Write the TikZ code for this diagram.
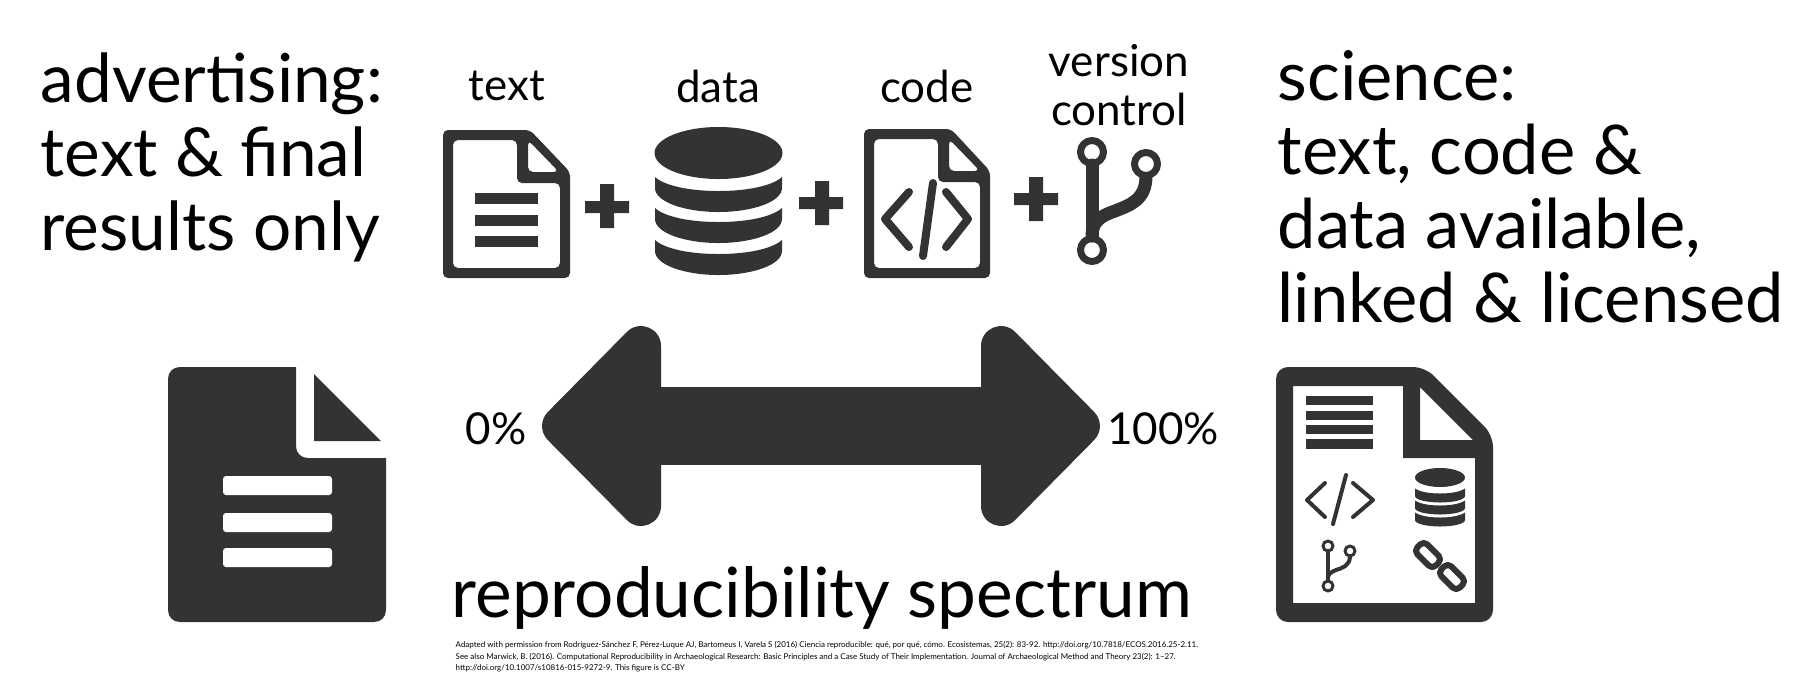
\documentclass[tikz,border=0pt]{standalone}
\usepackage{fontspec}
\setmainfont{Lato}
\definecolor{icongray}{HTML}{333333}
\tikzset{
  icon/.style={fill=icongray,draw=none},
  iconline/.style={draw=icongray,line width=#1*0.01cm,line cap=round,line join=round},
  heading/.style={font=\fontsize{#1}{21}\selectfont,anchor=north west,align=left,inner sep=0pt},
  label/.style={font=\fontsize{12.5}{12}\selectfont,anchor=base,inner sep=0pt}
}
\begin{document}
\begin{tikzpicture}[x=0.01cm,y=-0.01cm]
\useasboundingbox (0,0) rectangle (1814,687);
% headings
\node[heading=19.2] (adtext) at (40,52) {advertising:\\text \& final\\results only};
\node[heading=19.5] (scitext) at (1277,50) {science:\\text, code \&\\data available,\\linked \& licensed};
\node[label] (text) at (507,100) {text};
\node[label] (data) at (718,102) {data};
\node[label] (code) at (927,102) {code};
\node[label] (version) at (1119,76) {version};
\node[label] (control) at (1119,125) {control};
% text page
\fill[icon,even odd rule,rounded corners=0.05cm] (443,130) -- (530,130) -- (570,172) -- (570,278) -- (443,278) -- cycle
  (453,140) -- (453,268) -- (560,268) -- (560,183) -- (517,183) -- (517,140) -- cycle
  (528,140) -- (559,172) -- (528,172) -- cycle;
\fill[icon] (475,193) rectangle (538,204);
\fill[icon] (475,215) rectangle (538,226);
\fill[icon] (475,236) rectangle (538,247);
% plus signs
\fill[icon] (585,201) rectangle (629,213) (600,184) rectangle (614,228);
\fill[icon] (799,197) rectangle (843,209) (815,181) rectangle (829,225);
\fill[icon] (1014,193) rectangle (1058,205) (1029,177) rectangle (1043,221);
% database
\fill[icon] (718.5,153) circle [x radius=64,y radius=26];
\fill[icon] (655,177) .. controls (665,186) and (690,191) .. (718.5,191) .. controls (747,191) and (772,186) .. (782,177) -- (782,188) .. controls (782,202) and (752,212) .. (718.5,212) .. controls (685,212) and (655,202) .. (655,188) -- cycle;
\fill[icon,shift={(0,31)}] (655,177) .. controls (665,186) and (690,191) .. (718.5,191) .. controls (747,191) and (772,186) .. (782,177) -- (782,188) .. controls (782,202) and (752,212) .. (718.5,212) .. controls (685,212) and (655,202) .. (655,188) -- cycle;
\fill[icon,shift={(0,63)}] (655,177) .. controls (665,186) and (690,191) .. (718.5,191) .. controls (747,191) and (772,186) .. (782,177) -- (782,188) .. controls (782,202) and (752,212) .. (718.5,212) .. controls (685,212) and (655,202) .. (655,188) -- cycle;
% code page
\fill[icon,even odd rule,rounded corners=0.05cm] (864,129) -- (951,129) -- (990,171) -- (990,278) -- (864,278) -- cycle
  (874,139) -- (874,268) -- (980,268) -- (980,182) -- (938,182) -- (938,139) -- cycle
  (949,139) -- (980,171) -- (949,171) -- cycle;
\draw[iconline=8] (909,192) -- (885,219) -- (909,247);
\draw[iconline=8] (946,192) -- (968,219) -- (946,247);
\draw[iconline=8] (933,183) -- (923,256);
% version control
\draw[iconline=7] (1092,152) circle (11.5);
\draw[iconline=7] (1146,164) circle (11.5);
\draw[iconline=7] (1092,250) circle (11.5);
\draw[iconline=13] (1092,165) -- (1092,236);
\draw[iconline=13,line cap=butt] (1146,176) .. controls (1146,200) and (1130,205) .. (1115,211) .. controls (1100,216) and (1092,222) .. (1092,236);
% double arrow
\node[label,anchor=base] (zero) at (496,444) {0\%};
\node[label,anchor=base] (hundred) at (1163,444) {100\%};
\fill[icon] (661,346) .. controls (661,328.2) and (639.5,319.3) .. (626.9,331.9) -- (547.9,411.9) .. controls (540.1,419.7) and (540.1,432.3) .. (547.9,440.1) -- (626.9,520.1) .. controls (639.5,532.7) and (661,523.8) .. (661,506) -- cycle;
\fill[icon] (981,346) .. controls (981,328.2) and (1002.5,319.3) .. (1015.1,331.9) -- (1094.1,411.9) .. controls (1101.9,419.7) and (1101.9,432.3) .. (1094.1,440.1) -- (1015.1,520.1) .. controls (1002.5,532.7) and (981,523.8) .. (981,506) -- cycle;
\fill[icon] (655,387) rectangle (987,465);
% closed paper
\fill[icon] (180,367) -- (296,367) -- (296,446) .. controls (296,453) and (301,458) .. (308,458) -- (386,458) -- (386,610) .. controls (386,617) and (381,622) .. (374,622) -- (180,622) .. controls (173,622) and (168,617) .. (168,610) -- (168,379) .. controls (168,372) and (173,367) .. (180,367) -- cycle;
\fill[icon] (314,374) -- (381,441) -- (314,441) -- cycle;
\fill[white,rounded corners=0.03cm] (223,476) rectangle (332,495);
\fill[white,rounded corners=0.03cm] (223,513) rectangle (332,532);
\fill[white,rounded corners=0.03cm] (223,548) rectangle (332,567);
% open paper
\fill[icon,even odd rule,rounded corners=0.12cm] (1276,367) -- (1425,367) -- (1493,435) -- (1493,622) -- (1276,622) -- cycle
  [sharp corners] (1293,386) -- (1293,603) -- (1475,603) -- (1475,458) -- (1403,458) -- (1403,386) -- cycle
  (1420,387) -- (1473,440) -- (1420,440) -- cycle;
\fill[icon] (1306,396) rectangle (1373,405);
\fill[icon] (1306,411) rectangle (1373,420);
\fill[icon] (1306,425) rectangle (1373,434);
\fill[icon] (1306,439) rectangle (1373,449);
\draw[iconline=4] (1325,483) -- (1307,500) -- (1325,517);
\draw[iconline=4] (1353,483) -- (1373,500) -- (1353,517);
\draw[iconline=4] (1346,475) -- (1333,524);
\fill[icon] (1440,477.5) circle [x radius=25,y radius=9.5];
\fill[icon] (1415,488.5) .. controls (1420,492) and (1430,493.5) .. (1440,493.5) .. controls (1450,493.5) and (1460,492) .. (1465,488.5) -- (1465,496) .. controls (1465,500) and (1452,502.5) .. (1440,502.5) .. controls (1428,502.5) and (1415,500) .. (1415,496) -- cycle;
\fill[icon,shift={(0,12)}] (1415,488.5) .. controls (1420,492) and (1430,493.5) .. (1440,493.5) .. controls (1450,493.5) and (1460,492) .. (1465,488.5) -- (1465,496) .. controls (1465,500) and (1452,502.5) .. (1440,502.5) .. controls (1428,502.5) and (1415,500) .. (1415,496) -- cycle;
\fill[icon,shift={(0,24)}] (1415,488.5) .. controls (1420,492) and (1430,493.5) .. (1440,493.5) .. controls (1450,493.5) and (1460,492) .. (1465,488.5) -- (1465,496) .. controls (1465,500) and (1452,502.5) .. (1440,502.5) .. controls (1428,502.5) and (1415,500) .. (1415,496) -- cycle;
\draw[iconline=3] (1328,546) circle (5);
\draw[iconline=3] (1350,551) circle (5);
\draw[iconline=3] (1328,586) circle (5);
\draw[iconline=4] (1328,551) -- (1328,581);
\draw[iconline=4] (1350,556) .. controls (1350,566) and (1342,568) .. (1336,570) .. controls (1331,572) and (1328,574) .. (1328,578);
\draw[iconline=6,rounded corners=0.05cm,rotate around={-45:(1428,555)}] (1415,548) rectangle (1441,562);
\draw[iconline=6,rounded corners=0.05cm,rotate around={-45:(1452,577)}] (1439,570) rectangle (1465,584);
% bottom texts
\node[font=\fontsize{19.7}{21}\selectfont,anchor=base west,inner sep=0pt] (spectrum) at (451,617) {reproducibility spectrum};
\node[font=\fontsize{2.27}{3.27}\selectfont,anchor=north west,align=left,inner sep=0pt] (credit) at (455,641) {Adapted with permission from Rodríguez-Sánchez F, Pérez-Luque AJ, Bartomeus I, Varela S (2016) Ciencia reproducible: qué, por qué, cómo. Ecosistemas, 25(2): 83-92.  http://doi.org/10.7818/ECOS.2016.25-2.11.\\See also Marwick, B. (2016). Computational Reproducibility in Archaeological Research: Basic Principles and a Case Study of Their Implementation. Journal of Archaeological Method and Theory 23(2): 1–27.\\http://doi.org/10.1007/s10816-015-9272-9. This figure is CC-BY};
\end{tikzpicture}
\end{document}
